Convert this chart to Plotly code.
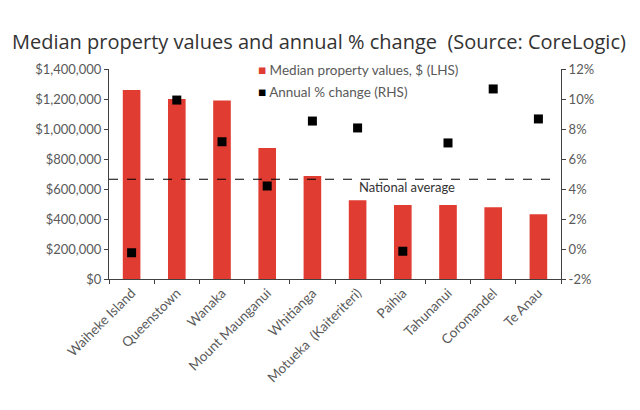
import plotly.graph_objects as go

categories = ["Waiheke Island", "Queenstown", "Wanaka", "Mount Maunganui", "Whitianga",
              "Motueka  (Kaiteriteri)", "Paihia", "Tahunanui", "Coromandel", "Te Anau"]
median_values = [1260000, 1200000, 1190000, 873000, 687000, 525000, 493000, 493000, 478000, 431000]
annual_change = [-0.25, 9.93, 7.15, 4.2, 8.53, 8.07, -0.15, 7.07, 10.67, 8.67]
national_average = 665000
left_ticks = [0, 200000, 400000, 600000, 800000, 1000000, 1200000, 1400000]
right_ticks = [-2, 0, 2, 4, 6, 8, 10, 12]

grey = "#595959"
axis_col = "#404040"
font_fam = "Lato, Liberation Sans, Arial, sans-serif"
bar_col = "#E03C31"

fig = go.Figure()
fig.add_trace(go.Bar(
    x=categories, y=median_values, name="Median property values, $ (LHS)",
    marker=dict(color=bar_col, line=dict(width=0)), width=0.39, yaxis="y"))
fig.add_trace(go.Scatter(
    x=categories, y=annual_change, name="Annual % change (RHS)", mode="markers",
    marker=dict(symbol="square", size=9, color="black"), yaxis="y2"))

fig.add_shape(type="line", xref="paper", yref="y", x0=0, x1=0.988,
              y0=national_average, y1=national_average,
              line=dict(color="black", width=1.2, dash="dash"))
fig.add_annotation(x=6.1, y=national_average, xref="x", yref="y", text="National average",
                   showarrow=False, yshift=-8, font=dict(size=13, color="#333", family=font_fam))

# page offset (browser body margin) compensated in pixel positions
OFF = 8
W, H = 640, 410
L, R, T, B = 109 - OFF, 640 - 561 + OFF, 69 - OFF, 410 - 279 + OFF

# legend drawn as text with coloured square glyphs
leg = [(f"<span style='color:{bar_col}'>■</span> Median property values, $ (LHS)", 70),
       ("<span style='color:black'>■</span> Annual % change (RHS)", 92)]
for txt, py in leg:
    fig.add_annotation(x=(256 - OFF - L) / (W - L - R), y=1 - (py - OFF - T) / (H - T - B),
                       xref="paper", yref="paper", showarrow=False, text=txt,
                       font=dict(size=13.5, color=grey, family=font_fam),
                       xanchor="left", yanchor="middle")

fig.update_layout(
    width=W, height=H,
    margin=dict(l=L, r=R, t=T, b=B, autoexpand=False),
    plot_bgcolor="white", paper_bgcolor="white",
    showlegend=False,
    title=dict(text="Median property values and annual % change  (Source: CoreLogic)",
               x=(12 - OFF) / W, xanchor="left", y=1 - (42 - OFF) / H, yanchor="middle",
               font=dict(size=20, color="#333", family="Open Sans, sans-serif")),
    xaxis=dict(type="category", tickangle=-45, showline=True, linecolor=axis_col, linewidth=1,
               ticks="outside", ticklen=4, tickcolor=axis_col, tickson="boundaries",
               tickfont=dict(size=13.5, color=grey, family=font_fam), showgrid=False,
               range=[-0.5, 9.5], automargin=False),
    yaxis=dict(range=[0, 1400000], tickvals=left_ticks,
               ticktext=["$0"] + ["${:,}".format(v) for v in left_ticks[1:]],
               showline=True, linecolor=axis_col, linewidth=1, ticks="outside", ticklen=4,
               tickcolor=axis_col, showgrid=False, zeroline=False, automargin=False,
               tickfont=dict(size=13, color=grey, family=font_fam)),
    yaxis2=dict(range=[-2, 12], tickvals=right_ticks, ticktext=[f"{v}%" for v in right_ticks],
                overlaying="y", side="right", showline=True, linecolor=axis_col, linewidth=1,
                ticks="outside", ticklen=4, tickcolor=axis_col, showgrid=False, zeroline=False,
                automargin=False,
                tickfont=dict(size=13, color=grey, family=font_fam)),
)

fig.write_html("out.html")
